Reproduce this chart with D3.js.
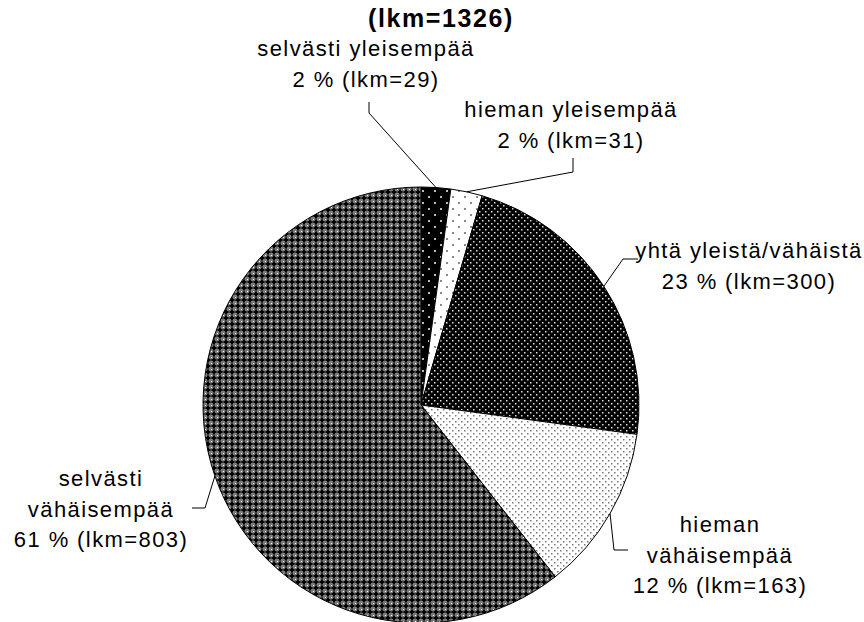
<!DOCTYPE html>
<html lang="fi">
<head>
<meta charset="UTF-8">
<script src="https://d3js.org/d3.v7.min.js"></script>
<title>lkm=1326</title>
<style type="text/css">
	body{ margin:0; background:#fff; }
	svg{ display:block; }
	.lbl{ font-family:"Liberation Sans", Arial, sans-serif; font-size:22px; letter-spacing:1.4px; fill:#000; }
	.title{ font-family:"Liberation Sans", Arial, sans-serif; font-size:25px; font-weight:bold; letter-spacing:1.6px; fill:#000; }
	.slice{ stroke:#000; stroke-width:1; }
	.leader{ fill:none; stroke:#000; stroke-width:1; }
</style>
</head>
<body onload="main()">
<svg width="864" height="622"></svg>
<script>
// data
var categories = ["selvästi yleisempää", "hieman yleisempää", "yhtä yleistä/vähäistä", "hieman vähäisempää", "selvästi vähäisempää"];
var counts = [29, 31, 300, 163, 803];
var percents = [2, 2, 23, 12, 61];
var totalCount = 1326;
// how each category label is broken into lines
var labelLines = [
	["selvästi yleisempää"],
	["hieman yleisempää"],
	["yhtä yleistä/vähäistä"],
	["hieman", "vähäisempää"],
	["selvästi", "vähäisempää"]
];

function main() {
	var svg = d3.select("svg");
	var cx = 421, cy = 405, r = 218;

	// fill patterns
	var defs = svg.append("defs");
	function pat(id, size, bg) {
		var p = defs.append("pattern").attr("id", id)
			.attr("patternUnits", "userSpaceOnUse")
			.attr("width", size).attr("height", size);
		p.append("rect").attr("width", size).attr("height", size).attr("fill", bg);
		return p;
	}
	function dot(p, x, y, w, h, c) {
		p.append("rect").attr("x", x).attr("y", y).attr("width", w).attr("height", h).attr("fill", c);
	}
	var p0 = pat("p0", 12, "#000");
	dot(p0, 1, 1, 2, 2, "#bbb"); dot(p0, 7, 7, 2, 2, "#bbb");
	var p1 = pat("p1", 12, "#fff");
	dot(p1, 1, 1, 2, 2, "#888"); dot(p1, 7, 7, 2, 2, "#888");
	var p2 = pat("p2", 6, "#000");
	dot(p2, 1, 1, 1.5, 1.5, "#ddd"); dot(p2, 4, 4, 1.5, 1.5, "#ddd");
	var p3 = pat("p3", 6, "#fff");
	dot(p3, 1, 1, 1.5, 1.5, "#777"); dot(p3, 4, 4, 1.5, 1.5, "#777");
	var p4 = pat("p4", 6, "#7a7a7a");
	dot(p4, 2, 0.5, 2, 5, "#000"); dot(p4, 0.5, 2, 5, 2, "#000");
	dot(p4, 0, 0, 1, 1, "#fff");
	var fills = ["url(#p0)", "url(#p1)", "url(#p2)", "url(#p3)", "url(#p4)"];

	var data = categories.map(function(c, i) {
		return { cat: c, value: counts[i], pct: percents[i], lines: labelLines[i], i: i };
	});

	var pie = d3.pie().sort(null).value(function(d) { return d.value; });
	var arc = d3.arc().innerRadius(0).outerRadius(r);
	var rim = d3.arc().innerRadius(r).outerRadius(r);
	var arcs = pie(data);

	var g = svg.append("g").attr("transform", "translate(" + cx + "," + cy + ")");
	g.selectAll(".slice")
		.data(arcs)
		.enter().append("path")
		.attr("class", "slice")
		.attr("fill", function(d) { return fills[d.data.i]; })
		.attr("d", arc);

	// label placement: text centre/first baseline, leader start and knee
	var place = [
		{ x: 366, y: 56, from: [369, 102], knee: [369, 113] },
		{ x: 571, y: 117, from: [573, 158], knee: [573, 172] },
		{ x: 749, y: 258, from: [638, 259], knee: [623, 259] },
		{ x: 720, y: 532, from: [628, 550], knee: [614, 550] },
		{ x: 101, y: 486, from: [192, 508], knee: [205, 508] }
	];

	arcs.forEach(function(d, i) {
		var p = place[i];
		var c = rim.centroid(d);
		var pts = [p.from, p.knee, [c[0] + cx, c[1] + cy]];
		svg.append("path").attr("class", "leader").attr("d", d3.line()(pts));

		var t = svg.append("text").attr("class", "lbl").attr("text-anchor", "middle");
		var lines = d.data.lines.concat([d.data.pct + " % (lkm=" + d.data.value + ")"]);
		lines.forEach(function(s, k) {
			t.append("tspan").attr("x", p.x).attr("y", p.y + k * 30.5).text(s);
		});
	});

	svg.append("text").attr("class", "title")
		.attr("x", 441).attr("y", 27)
		.attr("text-anchor", "middle")
		.text("(lkm=" + totalCount + ")");
}
</script>
</body>
</html>
